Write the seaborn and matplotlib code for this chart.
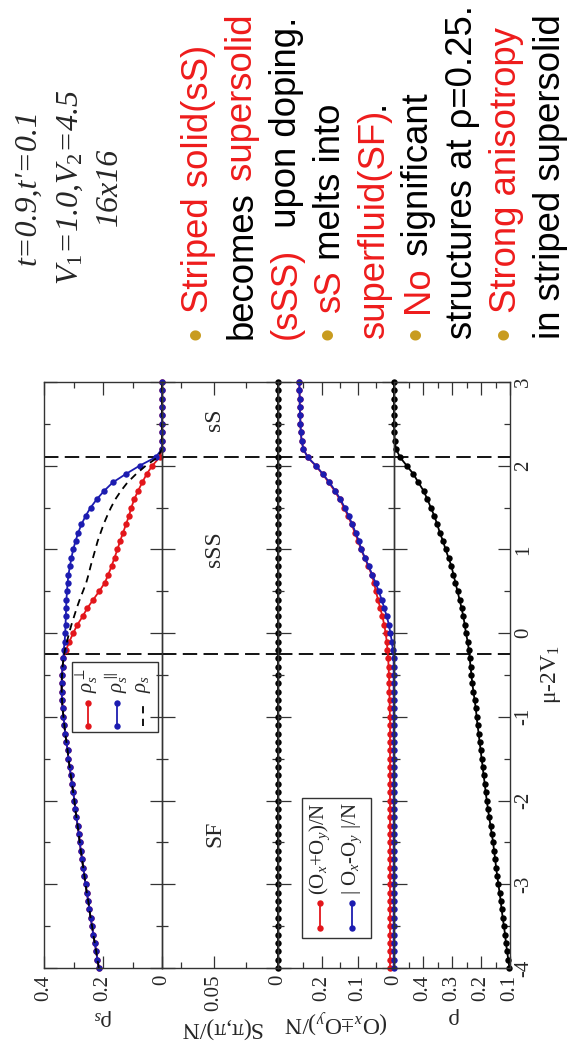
import numpy as np
import pandas as pd
import seaborn as sns
import matplotlib.pyplot as plt
from matplotlib.ticker import MultipleLocator
from matplotlib.patches import Rectangle

sns.set_style('ticks')
plt.rcParams['font.family'] = ['Liberation Serif', 'DejaVu Serif']
plt.rcParams['mathtext.fontset'] = 'custom'
plt.rcParams['mathtext.rm'] = 'Liberation Serif'
plt.rcParams['mathtext.it'] = 'Liberation Serif:italic'
plt.rcParams['mathtext.bf'] = 'Liberation Serif:bold'
plt.rcParams['axes.unicode_minus'] = False

# mu - 2V1 grid (step 0.1 from -4 to 3)
mu = np.round(np.arange(-40, 31) / 10, 1)

# superfluid density, SF region (mu <= -0.3): all three curves coincide
rho_s_sf = [0.214, 0.219, 0.223, 0.228, 0.233, 0.237, 0.242, 0.246, 0.250, 0.255,
            0.259, 0.263, 0.267, 0.271, 0.275, 0.279, 0.282, 0.286, 0.290, 0.294,
            0.297, 0.301, 0.305, 0.309, 0.313, 0.317, 0.320, 0.324, 0.328, 0.331,
            0.334, 0.337, 0.339, 0.340, 0.340, 0.339, 0.337, 0.334]
# sSS region (-0.2 .. 2.1)
par_sss = [0.333, 0.330, 0.328, 0.327, 0.326, 0.325, 0.324, 0.322, 0.320, 0.317,
           0.312, 0.307, 0.301, 0.293, 0.284, 0.273, 0.259, 0.242, 0.221, 0.196,
           0.167, 0.123, 0.076, 0.022]
perp_sss = [0.325, 0.314, 0.301, 0.287, 0.269, 0.253, 0.233, 0.213, 0.194, 0.182,
            0.171, 0.161, 0.151, 0.142, 0.132, 0.122, 0.112, 0.104, 0.094, 0.081,
            0.067, 0.052, 0.033, 0.008]
avg_sss = [0.329, 0.322, 0.315, 0.307, 0.298, 0.289, 0.279, 0.268, 0.257, 0.249,
           0.242, 0.234, 0.226, 0.218, 0.208, 0.198, 0.186, 0.173, 0.158, 0.139,
           0.117, 0.088, 0.055, 0.015]
ss_zero = [0.0] * 9  # sS region (2.2 .. 3.0)

rho_par = rho_s_sf + par_sss + ss_zero
rho_perp = rho_s_sf + perp_sss + ss_zero
rho_s = rho_s_sf + avg_sss + ss_zero

s_pipi = [0.0] * 71

o_plus = ([0.011] * 30 +
          [0.011, 0.012, 0.012, 0.013, 0.013, 0.014, 0.015, 0.016] +
          [0.018, 0.020, 0.023, 0.027, 0.032, 0.038, 0.044, 0.050, 0.055, 0.062,
           0.071, 0.081, 0.091, 0.099, 0.108, 0.117, 0.127, 0.138, 0.150, 0.164,
           0.180, 0.197, 0.216, 0.238] +
          [0.250, 0.255, 0.257, 0.258, 0.259, 0.260, 0.260, 0.261, 0.261])
o_minus = ([0.001] * 38 +
           [0.003, 0.006, 0.010, 0.014, 0.020, 0.027, 0.034, 0.042, 0.051, 0.060,
            0.070, 0.080, 0.090, 0.097, 0.106, 0.115, 0.125, 0.136, 0.148, 0.162,
            0.178, 0.196, 0.215, 0.238] +
           [0.250, 0.255, 0.257, 0.258, 0.259, 0.260, 0.260, 0.261, 0.261])

density = [0.102, 0.106, 0.110, 0.114, 0.117, 0.121, 0.125, 0.129, 0.132, 0.136,
           0.140, 0.144, 0.148, 0.151, 0.155, 0.158, 0.163, 0.167, 0.172, 0.176,
           0.180, 0.184, 0.187, 0.191, 0.194, 0.198, 0.201, 0.205, 0.208, 0.212,
           0.215, 0.218, 0.222, 0.226, 0.230, 0.233, 0.236, 0.239,
           0.242, 0.246, 0.252, 0.256, 0.261, 0.267, 0.274, 0.281, 0.288, 0.295,
           0.302, 0.312, 0.322, 0.331, 0.342, 0.351, 0.361, 0.373, 0.385, 0.398,
           0.416, 0.433, 0.456, 0.479,
           0.493, 0.498, 0.499, 0.500, 0.500, 0.500, 0.500, 0.500, 0.500]

phase_mu = [2.1, -0.25]
phase_names = ['sS', 'sSS', 'SF']
phase_pos = [2.55, 1.0, -2.4]

df = pd.DataFrame({'mu': mu, 'rho_perp': rho_perp, 'rho_par': rho_par, 'rho_s': rho_s,
                   's_pipi': s_pipi, 'o_plus': o_plus, 'o_minus': o_minus, 'rho': density})

RED = '#e3161b'
BLUE = '#1c1cb0'
GOLD = '#c89b1e'
TXTRED = '#ee1c1c'

W, H = 567, 1047
fig = plt.figure(figsize=(W / 100, H / 100), dpi=100)
fig.patch.set_facecolor('white')


def fx(px):
    return px / W


def fy(py):
    return 1 - py / H


top, bottom = 382, 968
edges = [44, 162, 278, 394, 510]
axes = [fig.add_axes([fx(edges[i]), fy(bottom), (edges[i + 1] - edges[i]) / W, (bottom - top) / H])
        for i in range(4)]
ax1, ax2, ax3, ax4 = axes

line_kw = dict(orient='y', sort=False, estimator=None, marker='o', markersize=4.6,
               markeredgewidth=0, linewidth=1.3, clip_on=False, legend=False)

sns.lineplot(data=df, x='rho_perp', y='mu', color=RED, ax=ax1, **line_kw)
sns.lineplot(data=df, x='rho_par', y='mu', color=BLUE, ax=ax1, **line_kw)
sns.lineplot(data=df, x='rho_s', y='mu', color='black', ax=ax1, orient='y', sort=False,
             estimator=None, linewidth=1.3, linestyle=(0, (4, 3)), legend=False)
sns.lineplot(data=df, x='s_pipi', y='mu', color='black', ax=ax2, **line_kw)
sns.lineplot(data=df, x='o_plus', y='mu', color=RED, ax=ax3, **line_kw)
sns.lineplot(data=df, x='o_minus', y='mu', color=BLUE, ax=ax3, **line_kw)
sns.lineplot(data=df, x='rho', y='mu', color='black', ax=ax4, **line_kw)

xlims = [(0.4, 0), (0.09, 0), (0.32, 0), (0.5, 0.1)]
majors = [[0, 0.2, 0.4], [0, 0.05], [0, 0.1, 0.2], [0.1, 0.2, 0.3, 0.4]]
major_lbl = [['0', '0.2', '0.4'], ['0', '0.05'], ['0', '0.1', '0.2'], ['0.1', '0.2', '0.3', '0.4']]
minors = [[0.1, 0.3], [0.025, 0.075], [0.05, 0.15, 0.25], [0.15, 0.25, 0.35, 0.45]]
xlabels = ['ρ$_s$', 'S(π,π)/N', '(O$_x$±O$_y$)/N', 'ρ']

for ax, lim, mj, ml, mn, xl in zip(axes, xlims, majors, major_lbl, minors, xlabels):
    ax.set_xlim(*lim)
    ax.set_ylim(-4, 3)
    ax.patch.set_alpha(0)
    ax.set_xticks(mj, ml, rotation=90, va='top', ha='center', fontsize=15)
    ax.set_xticks(mn, minor=True)
    ax.yaxis.set_major_locator(MultipleLocator(1))
    ax.yaxis.set_minor_locator(MultipleLocator(0.5))
    ax.tick_params(which='both', direction='in', left=True, right=True, top=True, bottom=True,
                   labelleft=False, labelright=False, color='#333333', width=0.9, pad=5)
    ax.tick_params(which='major', length=9)
    ax.tick_params(which='minor', length=4.5)
    for s in ax.spines.values():
        s.set_linewidth(1.0)
        s.set_color('#333333')
    ax.set_ylabel('')
    ax.set_xlabel(xl, rotation=180, fontsize=17, labelpad=4)
    for m in phase_mu:
        ax.axhline(m, color='black', linewidth=1.3, linestyle=(0, (8, 3.5)), zorder=1)

ax4.tick_params(axis='y', labelright=True, pad=3)
ax4.set_yticks(range(-4, 4), [str(v) for v in range(-4, 4)], rotation=90, va='center', fontsize=15)
ax4.yaxis.set_label_position('right')
ax4.set_ylabel('μ-2V$_1$', rotation=90, fontsize=17, labelpad=4)

for name, pos in zip(phase_names, phase_pos):
    ax2.text(0.049, pos, name, rotation=90, ha='center', va='center', fontsize=17)


def legend_box(ax, box, entries, text_y, handle_y):
    x0, y0, x1, y1 = box
    ax.add_patch(Rectangle((x0, y0), x1 - x0, y1 - y0, transform=ax.transAxes, fill=False,
                           lw=1.0, ec='#333333', zorder=6, clip_on=False))
    for xc, label, color, dashed in entries:
        if dashed:
            ax.plot([xc, xc], handle_y, transform=ax.transAxes, color=color, lw=1.3,
                    linestyle=(0, (4, 3)), clip_on=False)
        else:
            ax.plot([xc, xc], handle_y, transform=ax.transAxes, color=color, lw=1.3,
                    marker='o', markersize=4.6, markeredgewidth=0, clip_on=False)
        ax.text(xc, text_y, label, transform=ax.transAxes, rotation=90, rotation_mode='anchor',
                ha='left', va='center', fontsize=15)


legend_box(ax1, (0.237, 0.403, 0.966, 0.522),
           [(0.373, r'$\rho_s^{\perp}$', RED, False),
            (0.619, r'$\rho_s^{\parallel}$', BLUE, False),
            (0.839, r'$\rho_s$', 'black', True)],
           0.469, (0.413, 0.452))
legend_box(ax3, (0.207, 0.051, 0.802, 0.290),
           [(0.362, '(O$_x$+O$_y$)/N', RED, False),
            (0.638, '| O$_x$-O$_y$ |/N', BLUE, False)],
           0.125, (0.068, 0.111))

# text panel
tax = fig.add_axes([0, 0, 1, 1])
tax.axis('off')

formula = ["t=0.9,t'=0.1", r'$\mathit{V_1}$=1.0,$\mathit{V_2}$=4.5', '16x16']
for bx, s in zip([35, 78, 117], formula):
    fig.text(fx(bx), fy(187), s, rotation=90, rotation_mode='anchor', ha='center',
             va='baseline', fontsize=23, fontstyle='italic', family=['Liberation Serif'])

sans = ['Liberation Sans', 'DejaVu Sans']
bullet_lines = [
    (True, [('Striped solid(sS)', TXTRED)]),
    (False, [('becomes', 'black'), (' supersolid', TXTRED)]),
    (False, [('(sSS)', TXTRED), ('  upon doping.', 'black')]),
    (True, [('sS', TXTRED), (' melts into', 'black')]),
    (False, [('superfluid(SF)', TXTRED), ('.', 'black')]),
    (True, [('No', TXTRED), (' significant', 'black')]),
    (False, [('structures at ρ=0.25.', 'black')]),
    (True, [('Strong anisotropy', TXTRED)]),
    (False, [('in striped supersolid', 'black')]),
]
tkw = dict(rotation=90, rotation_mode='anchor', ha='left', va='baseline', fontsize=26.3, family=sans)
for i, (bul, parts) in enumerate(bullet_lines):
    bx = 208 + 44 * i
    if bul:
        fig.text(fx(bx), fy(333), '•', color=GOLD, rotation=90, rotation_mode='anchor',
                 ha='center', va='baseline', fontsize=27, family=sans)
        y0 = 313
    else:
        y0 = 339
    prev = tax.text(fx(bx), fy(y0), parts[0][0], color=parts[0][1], transform=fig.transFigure, **tkw)
    for s, c in parts[1:]:
        prev = tax.annotate(s, xy=(fx(bx), 1.0), xycoords=(fig.transFigure, prev), color=c, **tkw)

fig.savefig('out.png', dpi=100, facecolor='white')
